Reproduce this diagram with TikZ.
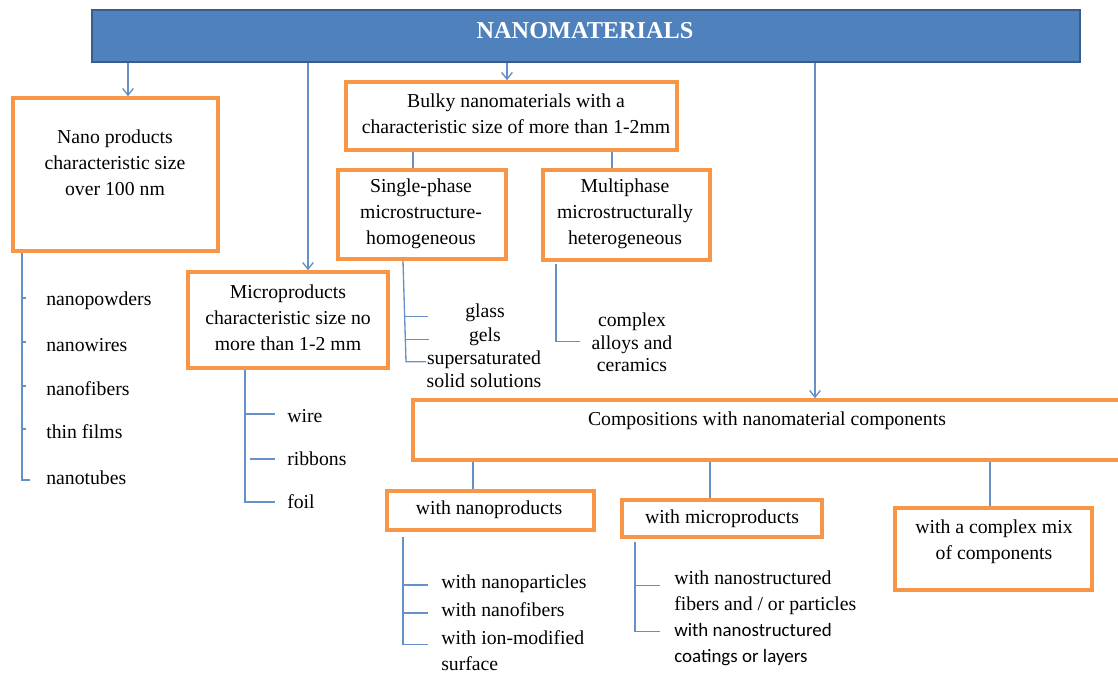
\documentclass[tikz,border=0pt]{standalone}
\usepackage{fontspec}
\setmainfont{Liberation Serif}
\newfontfamily\calib{Carlito}
\usetikzlibrary{arrows.meta,calc}
\definecolor{barfill}{RGB}{79,129,189}
\definecolor{bardraw}{RGB}{56,93,138}
\definecolor{orng}{RGB}{247,150,70}
\definecolor{lnk}{RGB}{100,145,200}
\tikzset{
  bx/.style={draw=orng, line width=2.7pt, fill=white, inner sep=0pt},
  conn/.style={draw=lnk, line width=1pt},
  arr/.style={conn, -{Straight Barb[length=5pt,width=8pt]}},
  txt/.style={inner sep=0pt, font=\fontsize{14.8}{19.5}\selectfont, align=center},
  itm/.style={inner sep=0pt, font=\fontsize{14.8}{19.5}\selectfont, anchor=west, align=left},
  tight/.style={inner sep=0pt, font=\fontsize{14.8}{17}\selectfont, align=center},
}
\begin{document}
\begin{tikzpicture}[x=0.75pt,y=-0.75pt]
\useasboundingbox (0,0) rectangle (1118,675);
% boxes
\node[draw=bardraw, fill=barfill, line width=1.8pt, minimum width=741pt, minimum height=39pt, inner sep=0pt] (bar) at (586,36) {};
\node[font=\fontsize{18.2}{21}\selectfont\bfseries, text=white, inner sep=0pt] (title) at (585,31) {NANOMATERIALS};
\node[bx, minimum width=153.75pt, minimum height=114.75pt] (nano) at (115.5,174.5) {};
\node[txt] (nanot) at (115,163) {Nano products\\characteristic size\\over 100 nm};
\node[bx, minimum width=150pt, minimum height=72pt] (micro) at (288,320) {};
\node[txt] (microt) at (288,318) {Microproducts\\characteristic size no\\more than 1-2 mm};
\node[bx, minimum width=248.25pt, minimum height=51pt] (bulky) at (511.5,116) {};
\node[txt] (bulkyt) at (516,114) {Bulky nanomaterials with a\\characteristic size of more than 1-2mm};
\node[bx, minimum width=126pt, minimum height=66.75pt] (single) at (422,214.5) {};
\node[txt] (singlet) at (421,214) {Single-phase\\microstructure-\\homogeneous};
\node[bx, minimum width=125.25pt, minimum height=67.5pt] (multi) at (626.5,215) {};
\node[txt] (multit) at (625,214) {Multiphase\\microstructurally\\heterogeneous};
\node[bx, minimum width=534pt, minimum height=45pt] (comp) at (769,430) {};
\node[txt] (compt) at (767,421) {Compositions with nanomaterial components};
\node[bx, minimum width=155.25pt, minimum height=29.25pt] (wnano) at (490.5,510.5) {};
\node[txt] (wnanot) at (489,510) {with nanoproducts};
\node[bx, minimum width=150pt, minimum height=27.75pt] (wmicro) at (722,518.5) {};
\node[txt] (wmicrot) at (722,519) {with microproducts};
\node[bx, minimum width=147.75pt, minimum height=61.5pt] (wmix) at (993.5,549) {};
\node[txt] (wmixt) at (994,542) {with a complex mix\\of components};
% arrows from title bar
\path (nano.north) ++(12.5,0) coordinate (a1);
\path (micro.north) ++(20,0) coordinate (a2);
\path (bulky.north) ++(-4.5,0) coordinate (a3);
\path (comp.north) ++(46,0) coordinate (a4);
\draw[arr] (bar.south -| a1) -- (a1);
\draw[arr] (bar.south -| a2) -- (a2);
\draw[arr] (bar.south -| a3) -- (a3);
\draw[arr] (bar.south -| a4) -- (a4);
% bulky to sub boxes
\draw[conn] ([xshift=-6.75pt]single.north |- bulky.south) -- ([xshift=-6.75pt]single.north);
\draw[conn] ([xshift=-10.9pt]multi.north |- bulky.south) -- ([xshift=-10.9pt]multi.north);
% compositions to sub boxes
\draw[conn] ([xshift=-13.1pt]wnano.north |- comp.south) -- ([xshift=-13.1pt]wnano.north);
\draw[conn] ([xshift=-9pt]wmicro.north |- comp.south) -- ([xshift=-9pt]wmicro.north);
\draw[conn] ([xshift=-2.6pt]wmix.north |- comp.south) -- ([xshift=-2.6pt]wmix.north);
% nano list
\node[itm] (n1) at (46,301) {nanopowders};
\node[itm] (n2) at (46,345) {nanowires};
\node[itm] (n3) at (46,389) {nanofibers};
\node[itm] (n4) at (46,432) {thin films};
\node[itm] (n5) at (46,478) {nanotubes};
\path (nano.south) ++(-93.5,0) coordinate (nl);
\draw[conn] (nl) -- ($(nl |- n5)+(0,2)$) -- ++(8,0);
\foreach \i in {n1,n2,n3,n4}{\draw[conn] ($(nl |- \i)+(0,-3)$) -- ++(4,0);}
% micro list
\node[itm] (m1) at (287,416) {wire};
\node[itm] (m2) at (287,459) {ribbons};
\node[itm] (m3) at (287,502) {foil};
\path (micro.south) ++(-43,0) coordinate (ml);
\draw[conn] (ml) -- (ml |- m3) -- ++(30,0);
\draw[conn] ($(ml |- m1)+(0,-2)$) -- ++(30,0);
\draw[conn] ($(ml |- m2)+(5,0)$) -- ++(25,0);
% single list
\node[txt] (s1) at (485,313) {glass};
\node[txt] (s2) at (485,337) {gels};
\node[tight] (s3) at (484,369.5) {supersaturated\\solid solutions};
\path (single.south) ++(-19,0) coordinate (sl);
\draw[conn] (sl) -- ($(sl)+(3,101)$) coordinate (slb) -- ++(20,0);
\draw[conn] ($(sl)+(2,56)$) -- ++(23,0);
\draw[conn] ($(sl)+(2.5,79)$) -- ++(23,0);
% multi list
\node[tight] (c1) at (632,342.5) {complex\\alloys and\\ceramics};
\path (multi.south) ++(-70.5,2) coordinate (cl);
\draw[conn] (cl) -- ($(cl)+(0,78)$) -- ++(24,0);
% wnano list
\node[itm] (p1) at (441,584) {with nanoparticles};
\node[itm] (p2) at (441,610) {with nanofibers};
\node[itm] (p3) at (441,650.5) {with ion-modified\\surface};
\path (wnano.south) ++(-87.5,5) coordinate (pl);
\draw[conn] (pl) -- ($(pl)+(0,108)$) -- ++(25,0);
\draw[conn] ($(pl |- p1)+(0,1)$) -- ++(25,0);
\draw[conn] ($(pl |- p2)+(0,3)$) -- ++(25,0);
% wmicro list
\node[itm] (q1) at (674,593) {with nanostructured\\fibers and / or particles};
\node[itm, font=\calib\fontsize{14.2}{19.5}\selectfont] (q2) at (674,645) {with nanostructured\\coatings or layers};
\path (wmicro.south) ++(-87,3) coordinate (ql);
\draw[conn] (ql) -- ($(ql)+(0,90)$) -- ++(25,0);
\draw[conn] ($(ql)+(0,44)$) -- ++(25,0);
\end{tikzpicture}
\end{document}
